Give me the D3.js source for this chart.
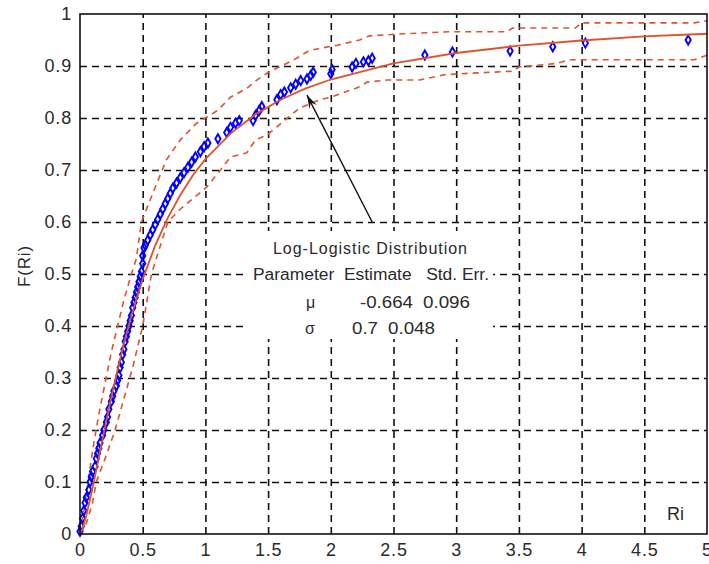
<!DOCTYPE html>
<html>
<head>
<meta charset="utf-8">
<script src="https://cdn.jsdelivr.net/npm/d3@7"></script>
<style>
  body { margin: 0; background: #fff; }
  text { font-family: "Liberation Sans", Arial, sans-serif; }
</style>
</head>
<body>
<script>
// tick labels
const xTicks = [0, 0.5, 1, 1.5, 2, 2.5, 3, 3.5, 4, 4.5, 5];
const yTicks = [0, 0.1, 0.2, 0.3, 0.4, 0.5, 0.6, 0.7, 0.8, 0.9, 1];

const ri = [0.00,0.01,0.02,0.03,0.04,0.05,0.07,0.08,0.09,0.10,0.12,0.13,0.14,0.15,0.16,0.18,0.19,0.21,0.22,0.23,
  0.25,0.26,0.27,0.29,0.30,0.31,0.32,0.33,0.34,0.35,0.36,0.37,0.38,0.39,0.40,0.41,0.42,0.43,0.44,0.45,
  0.46,0.47,0.48,0.49,0.50,0.50,0.51,0.52,0.54,0.56,0.58,0.60,0.62,0.64,0.66,0.68,0.70,0.72,0.74,0.77,
  0.80,0.83,0.86,0.89,0.92,0.96,0.99,1.02,1.10,1.17,1.20,1.24,1.27,1.38,1.40,1.43,1.45,1.57,1.60,1.63,
  1.68,1.72,1.76,1.81,1.84,1.86,2.00,2.01,2.17,2.20,2.26,2.30,2.33,2.75,2.97,3.43,3.77,4.03,4.85];
const fri = [0.005,0.015,0.03,0.045,0.06,0.07,0.085,0.10,0.11,0.12,0.13,0.145,0.155,0.165,0.175,0.19,0.20,0.215,0.225,0.24,
  0.255,0.265,0.275,0.285,0.295,0.305,0.32,0.33,0.345,0.355,0.37,0.38,0.39,0.40,0.41,0.42,0.435,0.445,0.455,0.465,
  0.475,0.485,0.495,0.505,0.52,0.535,0.55,0.555,0.565,0.575,0.585,0.595,0.605,0.615,0.625,0.635,0.645,0.655,0.665,0.675,
  0.685,0.695,0.705,0.715,0.725,0.735,0.745,0.752,0.76,0.772,0.782,0.79,0.795,0.795,0.805,0.815,0.822,0.835,0.845,0.85,
  0.858,0.865,0.872,0.875,0.882,0.888,0.885,0.893,0.898,0.905,0.908,0.91,0.915,0.921,0.927,0.929,0.937,0.944,0.95];

// fitted log-logistic cdf
const fitX = [0,0.02,0.05,0.1,0.15,0.2,0.25,0.3,0.35,0.4,0.45,0.5,0.6,0.7,0.8,0.9,1.0,1.2,1.4,1.6,1.8,2.0,2.5,3,3.5,4,4.5,5];
const fitF = [0,0.01,0.035,0.088,0.147,0.206,0.263,0.316,0.366,0.411,0.452,0.49,0.555,0.608,0.652,0.69,0.721,0.77,0.807,0.835,0.857,0.874,0.905,0.925,0.939,0.949,0.957,0.962];

// confidence bounds
const upX = [0,0.02,0.05,0.1,0.15,0.2,0.25,0.3,0.35,0.41,0.45,0.49,0.6,0.69,0.8,0.93,1.1,1.2,1.33,1.41,1.49,1.57,1.7,1.83,2.05,2.23,2.31,2.58,2.97,3.4,3.45,3.95,4.0,4.9,5.0];
const upF = [0,0.03,0.075,0.16,0.23,0.29,0.35,0.40,0.45,0.50,0.53,0.60,0.667,0.72,0.758,0.79,0.815,0.84,0.857,0.873,0.886,0.896,0.911,0.93,0.94,0.95,0.958,0.962,0.966,0.966,0.973,0.973,0.983,0.983,0.987];
const loX = [0,0.05,0.1,0.13,0.2,0.28,0.35,0.42,0.5,0.57,0.7,0.8,0.9,1.01,1.12,1.2,1.33,1.4,1.49,1.57,1.75,1.91,2.0,2.21,2.29,2.45,2.71,2.9,3.11,3.45,3.5,3.8,3.9,4.9,5.0];
const loF = [0,0.02,0.06,0.1,0.145,0.2,0.26,0.32,0.40,0.5,0.6,0.625,0.645,0.667,0.70,0.725,0.733,0.758,0.767,0.783,0.819,0.835,0.84,0.858,0.869,0.873,0.873,0.883,0.886,0.89,0.898,0.905,0.912,0.912,0.921];

const fitText = ["Log-Logistic Distribution", "Parameter  Estimate   Std. Err."];
const params = [["\u03bc", "-0.664", "0.096"], ["\u03c3", "0.7", "0.048"]];

var w = 709, h = 564;
var mLeft = 80, mRight = 707, mTop = 14, mBottom = 534;
var red = "#e0522a";

document.addEventListener("DOMContentLoaded", () => {
  var svg = d3.select("body").append("svg")
    .attr("width", w).attr("height", h);

  var x = d3.scaleLinear().domain([0, 5]).range([mLeft, mRight]);
  var y = d3.scaleLinear().domain([0, 1]).range([mBottom, mTop]);

  // grid
  svg.append("g")
    .attr("transform", "translate(0," + mBottom + ")")
    .call(d3.axisBottom(x).tickValues(xTicks.slice(1, -1)).tickSize(-(mBottom - mTop)).tickFormat(""))
    .call(g => g.select(".domain").remove())
    .selectAll("line").attr("stroke", "#111").attr("stroke-width", 1.6).attr("stroke-dasharray", "7,5");
  svg.append("g")
    .attr("transform", "translate(" + mLeft + ",0)")
    .call(d3.axisLeft(y).tickValues(yTicks.slice(1, -1)).tickSize(-(mRight - mLeft)).tickFormat(""))
    .call(g => g.select(".domain").remove())
    .selectAll("line").attr("stroke", "#111").attr("stroke-width", 1.6).attr("stroke-dasharray", "7,5");

  // white box behind the annotation
  svg.append("rect")
    .attr("x", 246).attr("y", 231).attr("width", 247).attr("height", 108)
    .attr("fill", "#fff");

  // axes with labels
  var xAxis = svg.append("g")
    .attr("transform", "translate(0," + mBottom + ")")
    .call(d3.axisBottom(x).tickValues(xTicks).tickSize(0).tickPadding(9).tickFormat(d => String(d)));
  var yAxis = svg.append("g")
    .attr("transform", "translate(" + mLeft + ",0)")
    .call(d3.axisLeft(y).tickValues(yTicks).tickSize(0).tickPadding(8).tickFormat(d => String(d)));
  [xAxis, yAxis].forEach(a => {
    a.select(".domain").remove();
    a.selectAll("text").attr("font-size", 18).attr("fill", "#2a2a2a")
      .style("font-family", "'Liberation Sans', Arial, sans-serif")
      .style("letter-spacing", "0.8px");
  });

  // bounds
  var line = d3.line().x(d => x(d[0])).y(d => y(d[1]));
  svg.append("path")
    .attr("d", line(upX.map((v, i) => [v, upF[i]])))
    .attr("fill", "none").attr("stroke", red).attr("stroke-width", 1.6).attr("stroke-dasharray", "6,5");
  svg.append("path")
    .attr("d", line(loX.map((v, i) => [v, loF[i]])))
    .attr("fill", "none").attr("stroke", red).attr("stroke-width", 1.6).attr("stroke-dasharray", "6,5");

  // points
  svg.append("g").selectAll("path")
    .data(ri.map((v, i) => [v, fri[i]]))
    .enter().append("path")
    .attr("transform", d => "translate(" + x(d[0]) + "," + y(d[1]) + ")")
    .attr("d", d3.symbol(d3.symbolDiamond).size(24))
    .attr("fill", "none").attr("stroke", "#0000ff").attr("stroke-width", 1.9);

  // fit
  svg.append("path")
    .attr("d", line(fitX.map((v, i) => [v, fitF[i]])))
    .attr("fill", "none").attr("stroke", red).attr("stroke-width", 1.8);

  // frame
  svg.append("rect")
    .attr("x", mLeft).attr("y", mTop).attr("width", mRight - mLeft).attr("height", mBottom - mTop)
    .attr("fill", "none").attr("stroke", "#111").attr("stroke-width", 1.6);

  // arrow
  var x0 = x(2.33), y0 = y(0.6), x1 = x(1.81), y1 = y(0.844);
  var ang = Math.atan2(y1 - y0, x1 - x0);
  svg.append("line")
    .attr("x1", x0).attr("y1", y0).attr("x2", x1).attr("y2", y1)
    .attr("stroke", "#111").attr("stroke-width", 1.4);
  var al = 14, aw = 0.3;
  svg.append("path")
    .attr("d", "M" + x1 + "," + y1 +
      "L" + (x1 - al * Math.cos(ang - aw)) + "," + (y1 - al * Math.sin(ang - aw)) +
      "L" + (x1 - al * 0.6 * Math.cos(ang)) + "," + (y1 - al * 0.6 * Math.sin(ang)) +
      "L" + (x1 - al * Math.cos(ang + aw)) + "," + (y1 - al * Math.sin(ang + aw)) + "Z")
    .attr("fill", "#111");

  // annotation text
  var t = svg.append("g").attr("font-size", 16).attr("fill", "#2a2a2a");
  t.append("text").attr("x", 273).attr("y", 254)
    .attr("textLength", 194).attr("lengthAdjust", "spacing").text(fitText[0]);
  t.append("text").attr("x", 253).attr("y", 280)
    .attr("textLength", 236).attr("lengthAdjust", "spacingAndGlyphs")
    .attr("xml:space", "preserve").style("white-space", "pre").text(fitText[1]);
  var cells = [
    [[306, 308, 0], [360, 308, 53], [423, 308, 47]],
    [[305, 334, 0], [352, 334, 26], [388, 334, 47]]
  ];
  params.forEach((row, r) => {
    row.forEach((s, c) => {
      var p = cells[r][c];
      var tx = t.append("text").attr("x", p[0]).attr("y", p[1]).text(s);
      if (p[2]) tx.attr("textLength", p[2]).attr("lengthAdjust", "spacingAndGlyphs");
    });
  });

  // axis titles
  svg.append("text")
    .attr("transform", "translate(30,266) rotate(-90)")
    .attr("text-anchor", "middle").attr("font-size", 17).attr("fill", "#2a2a2a")
    .style("letter-spacing", "0.8px")
    .text("F(Ri)");
  svg.append("text")
    .attr("x", 667).attr("y", 520).attr("font-size", 18).attr("fill", "#2a2a2a")
    .text("Ri");
});
</script>
</body>
</html>
